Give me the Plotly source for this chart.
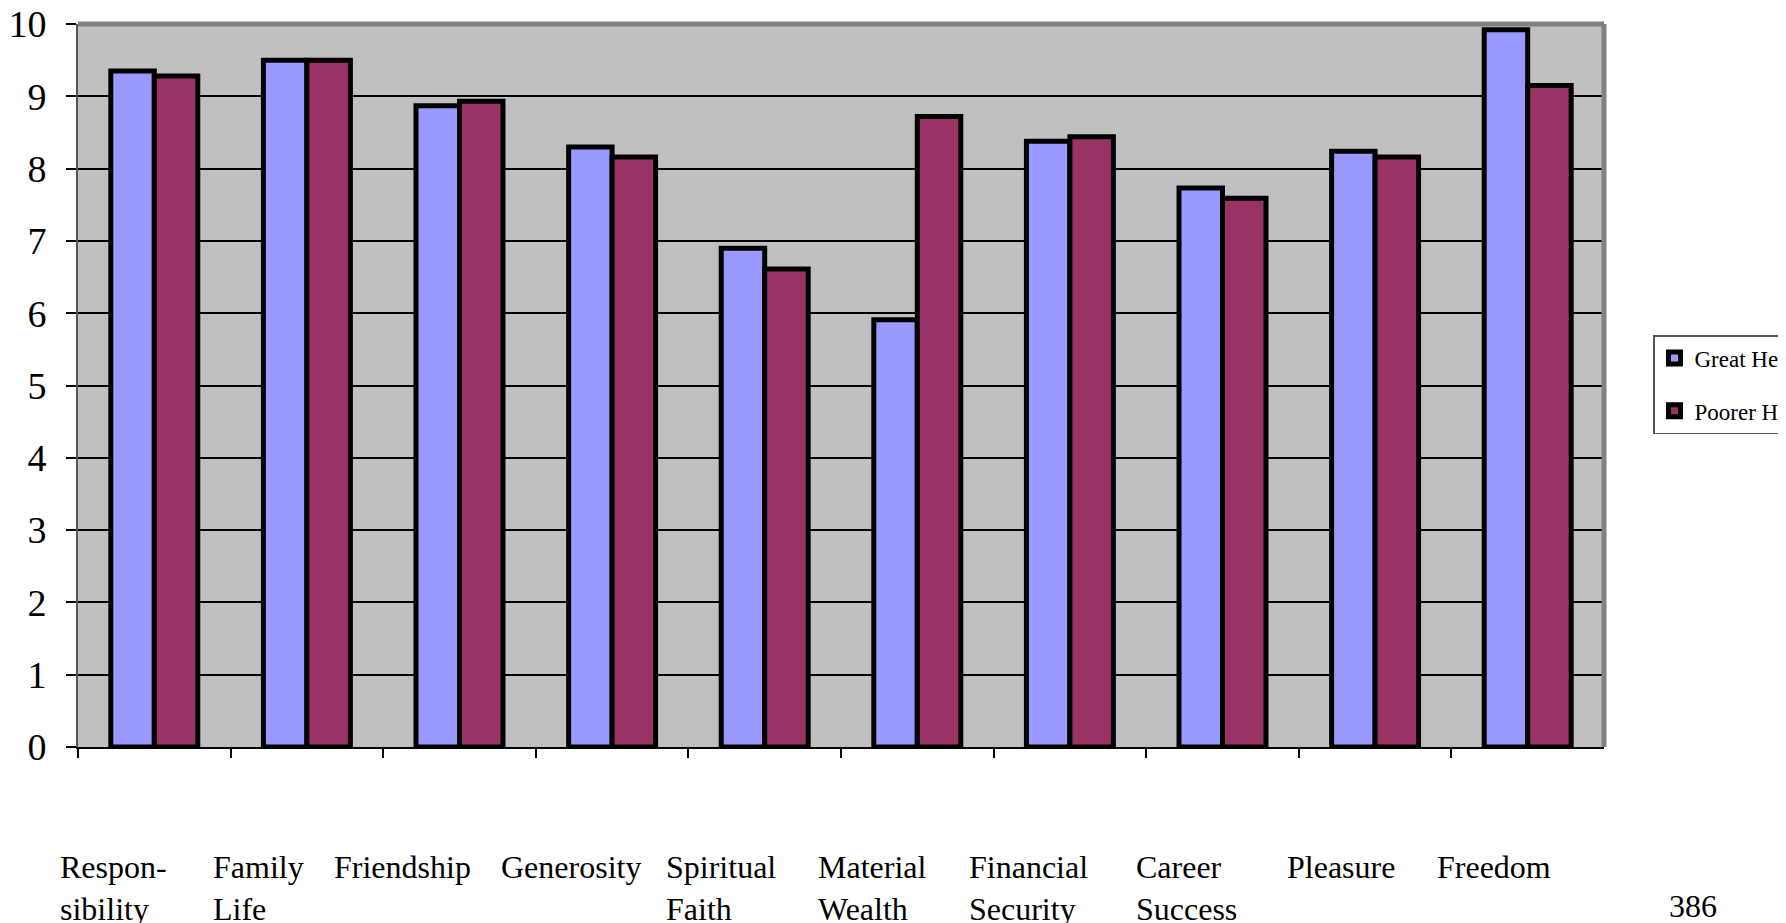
import plotly.graph_objects as go

W, H = 1786, 923

categories = ["Responsibility", "Family Life", "Friendship", "Generosity", "Spiritual Faith",
              "Material Wealth", "Financial Security", "Career Success", "Pleasure", "Freedom"]
label_texts = ["Respon-<br>sibility", "Family<br>Life", "Friendship", "Generosity", "Spiritual<br>Faith",
               "Material<br>Wealth", "Financial<br>Security", "Career<br>Success", "Pleasure", "Freedom"]
great_health = [9.35, 9.50, 8.87, 8.30, 6.90, 5.91, 8.38, 7.73, 8.24, 9.92]
poorer_health = [9.28, 9.50, 8.93, 8.16, 6.61, 8.72, 8.44, 7.59, 8.16, 9.15]
y_ticks = [0, 1, 2, 3, 4, 5, 6, 7, 8, 9, 10]

# layout positions (pixels; the page adds an 8px body margin)
label_left_px = [50, 203, 324, 491, 656, 808, 959, 1126, 1277, 1427]
label_top_px = 839

SERIF = "Liberation Serif, Times New Roman, serif"

fig = go.Figure()
fig.add_trace(go.Bar(x=categories, y=great_health, name="Great Health", legendgroup="g",
                     marker=dict(color="#9999FF", line=dict(color="black", width=5))))
fig.add_trace(go.Bar(x=categories, y=poorer_health, name="Poorer Health", legendgroup="p",
                     marker=dict(color="#993366", line=dict(color="black", width=5))))

x0, x1 = 70 / W, 1596 / W
y0, y1 = (H - 739) / H, (H - 16) / H

annotations = []
for txt, lx in zip(label_texts, label_left_px):
    annotations.append(dict(text=txt, x=lx / W, y=(H - label_top_px) / H, xref="paper", yref="paper",
                            xanchor="left", yanchor="top", align="left", showarrow=False,
                            font=dict(family=SERIF, size=32, color="black")))
annotations.append(dict(text="386", x=1685 / W, y=(H - 878) / H, xref="paper", yref="paper",
                        xanchor="center", yanchor="top", showarrow=False,
                        font=dict(family=SERIF, size=32, color="black")))

fig.update_layout(
    width=W, height=H,
    margin=dict(l=0, r=0, t=0, b=0, autoexpand=False),
    paper_bgcolor="white", plot_bgcolor="#C0C0C0",
    barmode="group", bargap=0.43, bargroupgap=0.0,
    showlegend=True,
    legend=dict(x=1645 / W, y=(H - 327) / H, xanchor="left", yanchor="top",
                bgcolor="white", bordercolor="#555555", borderwidth=1.5,
                font=dict(family=SERIF, size=23, color="black"),
                itemwidth=30, tracegroupgap=20),
    xaxis=dict(domain=[x0, x1], showticklabels=False, tickson="boundaries",
               ticks="outside", ticklen=9, tickcolor="black", tickwidth=1.5,
               showline=True, linecolor="black", linewidth=2, showgrid=False, zeroline=False),
    yaxis=dict(domain=[y0, y1], range=[0, 10], tickvals=y_ticks,
               ticks="outside", ticklen=10, tickcolor="black", tickwidth=1.5,
               ticklabelstandoff=12, ticklabeloverflow="allow",
               tickfont=dict(family=SERIF, size=38, color="black"),
               showline=True, linecolor="#555555", linewidth=2,
               showgrid=True, gridcolor="black", gridwidth=1.5, zeroline=False),
    annotations=annotations,
    shapes=[dict(type="line", xref="paper", yref="paper", x0=x0, x1=x1, y0=y1, y1=y1,
                 line=dict(color="#808080", width=5)),
            dict(type="line", xref="paper", yref="paper", x0=x1, x1=x1, y0=y0, y1=y1,
                 line=dict(color="#808080", width=5))],
)

fig.write_html("out.html")
